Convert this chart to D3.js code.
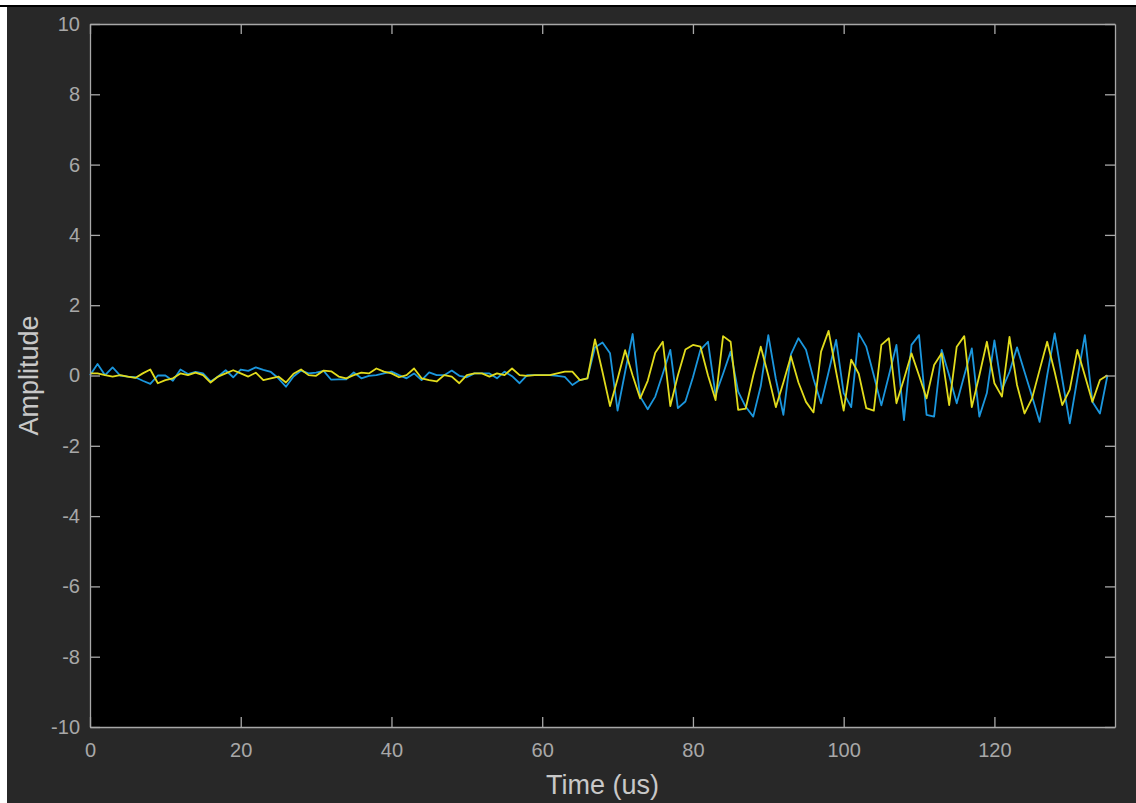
<!DOCTYPE html>
<html>
<head>
<meta charset="utf-8">
<script src="https://d3js.org/d3.v7.min.js"></script>
<style>
  body { margin: 0; background: #fff; }
  svg { display: block; }
</style>
</head>
<body>
<script>
// sample index (us) and the two traces
var time = d3.range(0, 136);

var blueTrace = [
   0.01,  0.33,  0.01,  0.23,  0.00, -0.03, -0.05, -0.15, -0.24,  0.00,
   0.00, -0.15,  0.17,  0.04,  0.10,  0.06, -0.17, -0.03,  0.15, -0.05,
   0.17,  0.13,  0.23,  0.16,  0.10, -0.08, -0.32, -0.03,  0.14,  0.06,
   0.08,  0.13, -0.12, -0.11, -0.11,  0.09, -0.08, -0.01,  0.01,  0.06,
   0.11,  0.01, -0.08,  0.06, -0.13,  0.09,  0.01,  0.01,  0.14, -0.01,
  -0.05,  0.06,  0.06,  0.06, -0.08,  0.11, -0.02, -0.22,  0.01,  0.01,
   0.01,  0.01, -0.01, -0.04, -0.27, -0.13, -0.08,  0.80,  0.94,  0.63,
  -1.00,  0.10,  1.18, -0.60, -0.96, -0.60,  0.05,  0.73, -0.93, -0.74,
  -0.05,  0.73,  0.96, -0.55,  0.05,  0.68, -0.46, -0.89, -1.17, -0.30,
   1.15, -0.10, -1.12,  0.60,  1.06,  0.73, -0.10, -0.79,  0.10,  1.01,
  -0.50, -0.90,  1.20,  0.82,  0.00, -0.85,  0.00,  0.87, -1.27,  0.87,
   1.15, -1.12, -1.17,  0.73,  0.00, -0.79,  0.00,  0.77, -1.17, -0.50,
   1.00, -0.40,  0.10,  0.80,  0.10, -0.60, -1.32,  0.00,  1.20, -0.10,
  -1.36, -0.10,  1.15, -0.75, -1.08,  0.00
];

var yellowTrace = [
   0.06,  0.06,  0.01, -0.03,  0.01, -0.03, -0.07,  0.06,  0.17, -0.22,
  -0.13, -0.08,  0.06,  0.01,  0.08,  0.01, -0.20, -0.03,  0.06,  0.15,
   0.06, -0.03,  0.08, -0.13, -0.08, -0.03, -0.20,  0.05,  0.17,  0.01,
  -0.01,  0.14,  0.12, -0.03, -0.08,  0.01,  0.08,  0.06,  0.20,  0.11,
   0.06, -0.05,  0.01,  0.20, -0.08, -0.13, -0.17,  0.01, -0.03, -0.22,
   0.01,  0.06,  0.06, -0.03,  0.06,  0.01,  0.20,  0.01, -0.01,  0.01,
   0.01,  0.01,  0.06,  0.11,  0.11, -0.13, -0.08,  1.03,  0.10, -0.87,
  -0.10,  0.72,  0.00, -0.65, -0.15,  0.65,  0.96, -0.87,  0.00,  0.74,
   0.87,  0.82,  0.00, -0.70,  1.12,  0.96, -0.98, -0.94,  0.00,  0.82,
   0.00, -0.90, -0.20,  0.55, -0.20, -0.75, -1.05,  0.68,  1.27,  0.10,
  -1.00,  0.45,  0.05, -0.93, -1.00,  0.87,  1.06, -0.79, -0.10,  0.63,
   0.00, -0.65,  0.30,  0.63, -0.84,  0.82,  1.12, -0.90,  0.00,  0.96,
  -0.22, -0.60,  1.10, -0.27, -1.08, -0.65,  0.16,  0.96,  0.10, -0.84,
  -0.40,  0.73,  0.00, -0.75, -0.13,  0.01
];

var xTicks = [0, 20, 40, 60, 80, 100, 120];
var yTicks = [-10, -8, -6, -4, -2, 0, 2, 4, 6, 8, 10];

var W = 1136, H = 803;
var box = { left: 90, right: 1115, top: 24, bottom: 727 };

var svg = d3.select("body").append("svg")
    .attr("width", W)
    .attr("height", H);

// white strip + thin black rule on top, then the dark figure
svg.append("rect").attr("width", W).attr("height", H).attr("fill", "#fff");
svg.append("rect").attr("x", 0).attr("y", 5).attr("width", W).attr("height", 2).attr("fill", "#000");
svg.append("rect").attr("x", 7).attr("y", 7).attr("width", W - 7).attr("height", H - 7).attr("fill", "#282828");

var x = d3.scaleLinear().domain([0, 136]).range([box.left, box.right]);
var y = d3.scaleLinear().domain([-10, 10]).range([box.bottom, box.top]);

svg.append("rect")
    .attr("x", box.left).attr("y", box.top)
    .attr("width", box.right - box.left).attr("height", box.bottom - box.top)
    .attr("fill", "#000");

var line = d3.line()
    .x(function(d, i) { return x(time[i]); })
    .y(function(d) { return y(d); });

var plot = svg.append("g");
plot.append("path").datum(blueTrace)
    .attr("d", line).attr("fill", "none")
    .attr("stroke", "#1b96dd").attr("stroke-width", 1.8)
    .attr("stroke-linejoin", "round");
plot.append("path").datum(yellowTrace)
    .attr("d", line).attr("fill", "none")
    .attr("stroke", "#e1db1c").attr("stroke-width", 1.8)
    .attr("stroke-linejoin", "round");

var axisColor = "#a8a8a8", textColor = "#a8a8a8";
var font = "'Liberation Sans', Arial, Helvetica, sans-serif";
// plain hyphen for negatives, like the original
var fmt = function(d) { return String(d); };

function styleAxis(g) {
  g.select(".domain").attr("stroke", axisColor).attr("stroke-width", 1.3);
  g.selectAll(".tick line").attr("stroke", axisColor).attr("stroke-width", 1.3);
  g.selectAll(".tick text").attr("fill", textColor)
    .style("font-family", font).style("font-size", "20px");
}

svg.append("g")
    .attr("transform", "translate(0," + box.bottom + ")")
    .call(d3.axisBottom(x).tickValues(xTicks).tickFormat(fmt).tickSizeInner(-10).tickSizeOuter(0).tickPadding(16))
    .call(styleAxis);

svg.append("g")
    .attr("transform", "translate(0," + box.top + ")")
    .call(d3.axisTop(x).tickValues(xTicks).tickSizeInner(-10).tickSizeOuter(0).tickFormat(""))
    .call(styleAxis);

svg.append("g")
    .attr("transform", "translate(" + box.left + ",0)")
    .call(d3.axisLeft(y).tickValues(yTicks).tickFormat(fmt).tickSizeInner(-10).tickSizeOuter(0).tickPadding(10))
    .call(styleAxis);

svg.append("g")
    .attr("transform", "translate(" + box.right + ",0)")
    .call(d3.axisRight(y).tickValues(yTicks).tickSizeInner(-10).tickSizeOuter(0).tickFormat(""))
    .call(styleAxis);

// axis titles
svg.append("text")
    .attr("x", (box.left + box.right) / 2)
    .attr("y", 794)
    .attr("text-anchor", "middle")
    .attr("fill", "#c8c8c8")
    .style("font-family", font).style("font-size", "27px")
    .text("Time (us)");

svg.append("text")
    .attr("transform", "translate(38," + (box.top + box.bottom) / 2 + ") rotate(-90)")
    .attr("text-anchor", "middle")
    .attr("fill", "#c8c8c8")
    .style("font-family", font).style("font-size", "27px")
    .text("Amplitude");
</script>
</body>
</html>
